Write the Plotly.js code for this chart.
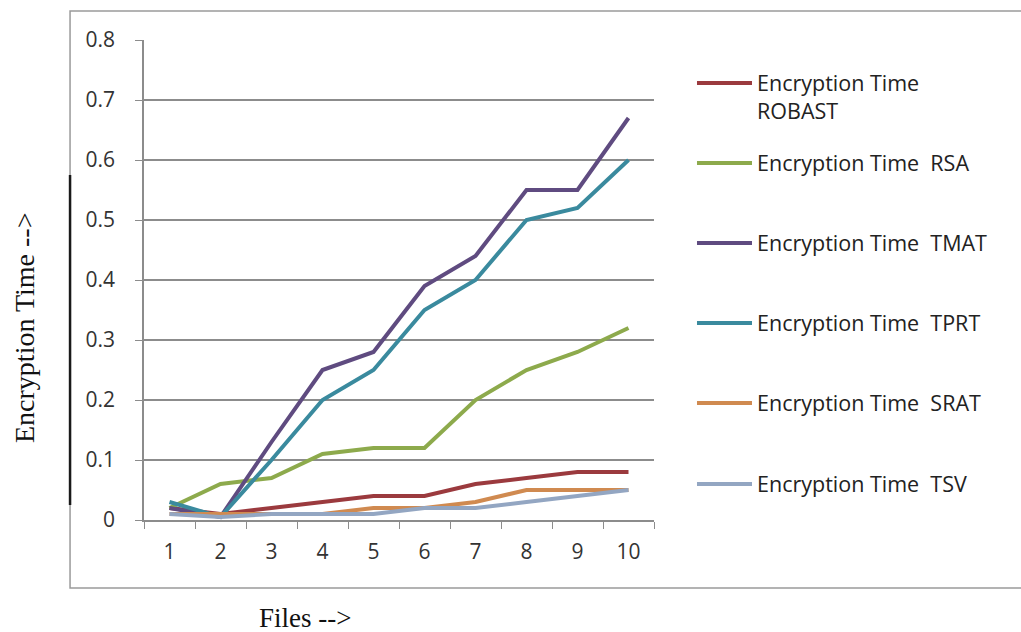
<!DOCTYPE html>
<html>
<head>
<meta charset="utf-8">
<script src="https://cdn.plot.ly/plotly-3.0.1.min.js"></script>
<style>
  html, body { margin: 0; padding: 0; background: #ffffff; }
  #chart { width: 1021px; height: 632px; }
</style>
</head>
<body>
<div id="chart"></div>
<script>
// Files 1..10 on the category axis
const files = ["1", "2", "3", "4", "5", "6", "7", "8", "9", "10"];

// Encryption time per file for each algorithm
const robast = [0.02, 0.01, 0.02, 0.03, 0.04, 0.04, 0.06, 0.07, 0.08, 0.08];
const rsa    = [0.02, 0.06, 0.07, 0.11, 0.12, 0.12, 0.20, 0.25, 0.28, 0.32];
const tmat   = [0.02, 0.005, 0.13, 0.25, 0.28, 0.39, 0.44, 0.55, 0.55, 0.67];
const tprt   = [0.03, 0.005, 0.10, 0.20, 0.25, 0.35, 0.40, 0.50, 0.52, 0.60];
const srat   = [0.01, 0.01, 0.01, 0.01, 0.02, 0.02, 0.03, 0.05, 0.05, 0.05];
const tsv    = [0.01, 0.005, 0.01, 0.01, 0.01, 0.02, 0.02, 0.03, 0.04, 0.05];

// y-axis tick labels
const yTickVals = [0, 0.1, 0.2, 0.3, 0.4, 0.5, 0.6, 0.7, 0.8];
const yTickText = ["0", "0.1", "0.2", "0.3", "0.4", "0.5", "0.6", "0.7", "0.8"];

const seriesNames = [
  "Encryption Time<br>ROBAST",
  "Encryption Time  RSA",
  "Encryption Time  TMAT",
  "Encryption Time  TPRT",
  "Encryption Time  SRAT",
  "Encryption Time  TSV"
];
const seriesValues = [robast, rsa, tmat, tprt, srat, tsv];
const seriesColors = ["#9b3a3e", "#8daa4c", "#5f4b80", "#3a8a9e", "#d08a50", "#93a6c2"];
const legendIds = ["legend", "legend2", "legend3", "legend4", "legend5", "legend6"];

const traces = seriesValues.map((vals, i) => ({
  type: "scatter",
  mode: "lines",
  x: files,
  y: vals,
  name: seriesNames[i],
  legend: legendIds[i],
  line: { color: seriesColors[i], width: 4 },
  hoverinfo: "x+y+name"
}));

const legendFont = { family: "Open Sans, sans-serif", size: 21.5, color: "#222222" };
function legendAt(yPaper, valign) {
  return {
    x: 1.0745, xanchor: "left",
    y: yPaper, yanchor: "middle",
    bgcolor: "rgba(0,0,0,0)",
    borderwidth: 0,
    font: legendFont,
    itemwidth: 55,
    valign: valign || "middle",
    itemclick: false,
    itemdoubleclick: false
  };
}

const tickFont = { family: "Open Sans, sans-serif", size: 21, color: "#333333" };

const layout = {
  width: 1021,
  height: 632,
  margin: { l: 144, r: 367, t: 40, b: 112 },
  paper_bgcolor: "#ffffff",
  plot_bgcolor: "#ffffff",
  showlegend: true,
  xaxis: {
    type: "category",
    range: [-0.5, 9.5],
    showgrid: false,
    showline: true,
    linecolor: "#8c8c8c",
    linewidth: 1.5,
    ticks: "outside",
    tickson: "boundaries",
    ticklen: 7,
    tickcolor: "#8c8c8c",
    ticklabelstandoff: 12,
    tickfont: tickFont,
    zeroline: false,
    fixedrange: true
  },
  yaxis: {
    range: [0, 0.8],
    tickmode: "array",
    tickvals: yTickVals,
    ticktext: yTickText,
    showgrid: true,
    gridcolor: "#8c8c8c",
    gridwidth: 1.5,
    showline: true,
    linecolor: "#8c8c8c",
    linewidth: 1.5,
    ticks: "outside",
    ticklen: 7,
    tickcolor: "#8c8c8c",
    ticklabelstandoff: 16,
    tickfont: tickFont,
    zeroline: false,
    fixedrange: true
  },
  legend:  legendAt(0.881, "top"),
  legend2: legendAt(0.74375),
  legend3: legendAt(0.5771),
  legend4: legendAt(0.4104),
  legend5: legendAt(0.24375),
  legend6: legendAt(0.075),
  shapes: [
    // outer chart frame
    { type: "rect", xref: "paper", yref: "paper",
      x0: -0.145, x1: 1.73, y0: -0.1417, y1: 1.0604,
      line: { color: "#9a9a9a", width: 1.5 }, fillcolor: "rgba(0,0,0,0)", layer: "below" },
    // dark stroke on the left edge of the frame
    { type: "line", xref: "paper", yref: "paper",
      x0: -0.145, x1: -0.145, y0: 0.0313, y1: 0.7188,
      line: { color: "#1a1a1a", width: 2.5 } }
  ],
  annotations: [
    { text: "Encryption Time -->", xref: "paper", yref: "paper",
      x: -0.2353, y: 0.4, xanchor: "center", yanchor: "middle",
      textangle: -90, showarrow: false,
      font: { family: "Liberation Serif, Times New Roman, serif", size: 28, color: "#111111" } },
    { text: "Files -->", xref: "paper", yref: "paper",
      x: 0.3157, y: -0.2042, xanchor: "center", yanchor: "middle",
      showarrow: false,
      font: { family: "Liberation Serif, Times New Roman, serif", size: 27, color: "#111111" } }
  ]
};

Plotly.newPlot("chart", traces, layout, { displayModeBar: false });
</script>
</body>
</html>
